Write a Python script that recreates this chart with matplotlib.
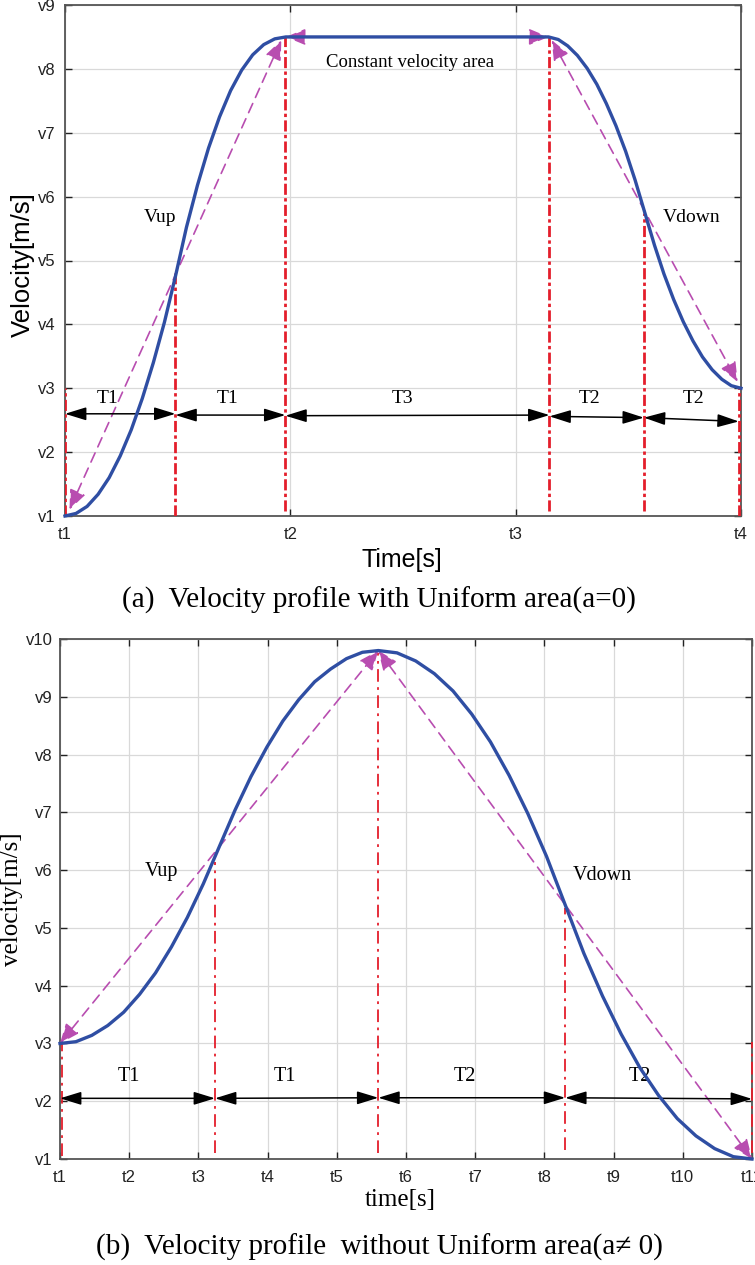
"""
Velocity profiles: (a) with a uniform (constant velocity) area, (b) without it.
"""

import matplotlib.pyplot as plt

# ---- panel (a): values ----
a_xticks = [0, 1, 2, 3]
a_xlabels = ['t1', 't2', 't3', 't4']
a_yticks = [1, 2, 3, 4, 5, 6, 7, 8, 9]
a_ylabels = ['v1', 'v2', 'v3', 'v4', 'v5', 'v6', 'v7', 'v8', 'v9']

a_t = [0, 0.049, 0.098, 0.147, 0.196, 0.245, 0.294, 0.343, 0.392, 0.441, 0.49,
       0.539, 0.588, 0.637, 0.686, 0.735, 0.784, 0.833, 0.882, 0.931, 0.98,
       2.146, 2.189, 2.231, 2.274, 2.317, 2.36, 2.402, 2.445, 2.488, 2.53, 2.573,
       2.616, 2.658, 2.701, 2.744, 2.787, 2.829, 2.872, 2.915, 2.957, 3.0]
a_v = [1.0, 1.04, 1.15, 1.34, 1.6, 1.94, 2.35, 2.84, 3.4, 4.03, 4.75,
       5.52, 6.18, 6.76, 7.25, 7.66, 7.98, 8.22, 8.38, 8.47, 8.5,
       8.5, 8.46, 8.36, 8.21, 8.01, 7.76, 7.46, 7.11, 6.71, 6.26, 5.75,
       5.24, 4.79, 4.39, 4.04, 3.74, 3.49, 3.29, 3.14, 3.04, 3.0]

# red dash-dot markers: x, top, bottom
a_marks_t = [0.0, 0.49, 0.978, 2.15, 2.569, 2.99]
a_marks_top = [3.0, 4.8, 8.5, 8.5, 5.75, 3.0]
a_marks_bot = [1.0, 1.0, 1.08, 1.08, 1.08, 1.0]

# magenta dashed double arrows (x0, y0, x1, y1)
a_slopes = [(0.02, 1.1, 0.96, 8.45), (0.98, 8.5, 2.146, 8.5), (2.16, 8.45, 2.985, 3.1)]

# black interval arrows and labels
a_span = [(0.0, 2.6, 0.49, 2.6), (0.49, 2.58, 0.978, 2.58), (0.978, 2.57, 2.15, 2.58),
          (2.15, 2.56, 2.569, 2.54), (2.569, 2.54, 2.99, 2.48)]
a_span_lbl = ['T1', 'T1', 'T3', 'T2', 'T2']
a_span_lbl_t = [0.19, 0.72, 1.5, 2.33, 2.79]
a_span_lbl_v = 2.84

# ---- panel (b) ----
b_xticks = list(range(11))
b_xlabels = ['t%d' % (i + 1) for i in range(11)]
b_yticks = list(range(1, 11))
b_ylabels = ['v%d' % i for i in range(1, 11)]

b_t = [0, 0.23, 0.46, 0.69, 0.92, 1.15, 1.38, 1.61, 1.84, 2.07, 2.3,
       2.53, 2.76, 2.99, 3.22, 3.45, 3.68, 3.91, 4.14, 4.37, 4.6,
       4.87, 5.14, 5.41, 5.68, 5.95, 6.22, 6.49, 6.76, 7.03, 7.3,
       7.57, 7.84, 8.11, 8.38, 8.65, 8.92, 9.19, 9.46, 9.73, 10.0]
b_v = [3.0, 3.03, 3.14, 3.31, 3.54, 3.85, 4.22, 4.67, 5.18, 5.76, 6.4,
       7.04, 7.62, 8.13, 8.58, 8.95, 9.26, 9.48, 9.66, 9.77, 9.8,
       9.76, 9.62, 9.4, 9.1, 8.7, 8.22, 7.64, 6.98, 6.24, 5.4,
       4.56, 3.82, 3.16, 2.58, 2.1, 1.7, 1.4, 1.18, 1.04, 1.0]

b_marks_t = [0.03, 2.24, 4.6, 7.3, 10.0]
b_marks_top = [3.0, 6.14, 9.75, 5.34, 3.03]
b_marks_bot = [1.05, 1.1, 1.1, 1.15, 1.1]

b_slopes = [(0.0, 3.0, 4.6, 9.8), (4.6, 9.8, 10.0, 1.0)]

b_span = [(0.0, 2.05, 2.24, 2.05), (2.24, 2.05, 4.6, 2.06), (4.6, 2.06, 7.3, 2.06),
          (7.3, 2.06, 10.0, 2.04)]
b_span_lbl = ['T1', 'T1', 'T2', 'T2']
b_span_lbl_t = [0.99, 3.25, 5.85, 8.38]
b_span_lbl_v = 2.42

BLUE = '#2F4EA3'
RED = '#E41E2B'
MAG = '#B84DB0'
GRID = '#D9D9D9'
SPINE = '#555555'
SANS = ['Liberation Sans', 'DejaVu Sans']
SERIF = ['Liberation Serif', 'DejaVu Serif']


def arrow(ax, x0, y0, x1, y1, color, lw, ls='-', hl=0.6, hw=0.25):
    ax.annotate('', xy=(x1, y1), xytext=(x0, y0),
                arrowprops=dict(arrowstyle='<|-|>,head_length=%g,head_width=%g' % (hl, hw),
                                color=color, lw=lw, linestyle=ls,
                                shrinkA=0, shrinkB=0, mutation_scale=20),
                annotation_clip=False)


def style_axes(ax, xt, xl, yt, yl, ypad):
    ax.set_xticks(xt)
    ax.set_xticklabels(xl, family=SANS)
    ax.set_yticks(yt)
    ax.set_yticklabels(yl, family=SANS)
    ax.tick_params(direction='in', length=5, width=1, top=True, right=True,
                   labelsize=12, colors='#222222')
    ax.tick_params(axis='x', pad=8)
    ax.tick_params(axis='y', pad=ypad)
    for s in ax.spines.values():
        s.set_color(SPINE)
        s.set_linewidth(1.3)
    ax.grid(True, color=GRID, linewidth=0.9)
    ax.set_axisbelow(True)


fig = plt.figure(figsize=(7.55, 12.65), dpi=100)

# ---------- (a) ----------
ax1 = fig.add_axes([65 / 755, 1 - 516 / 1265, 676 / 755, 511 / 1265])
ax1.set_xlim(0, 3)
ax1.set_ylim(1, 9)
style_axes(ax1, a_xticks, a_xlabels, a_yticks, a_ylabels, 7)

for x, top, bot in zip(a_marks_t, a_marks_top, a_marks_bot):
    ax1.plot([x, x], [bot, top], color=RED, lw=2.0, ls=(0, (4, 1.2, 1.2, 1.2)), zorder=3)
ax1.plot(a_t, a_v, color=BLUE, lw=2.4, zorder=4, clip_on=False)
for x0, y0, x1, y1 in a_slopes:
    arrow(ax1, x0, y0, x1, y1, MAG, 1.2, (0, (6, 4)))
for (x0, y0, x1, y1) in a_span:
    arrow(ax1, x0, y0, x1, y1, 'black', 1.1, hl=0.65, hw=0.2)
for lbl, x in zip(a_span_lbl, a_span_lbl_t):
    ax1.text(x, a_span_lbl_v, lbl, family=SERIF, fontsize=14, ha='center', va='center')
ax1.text(0.42, 5.68, 'Vup', family=SERIF, fontsize=14, ha='center', va='center')
ax1.text(2.78, 5.68, 'Vdown', family=SERIF, fontsize=14, ha='center', va='center')
ax1.text(1.53, 8.1, 'Constant velocity area', family=SERIF, fontsize=13.5,
         ha='center', va='center')

fig.text(23 / 755, 1 - 265 / 1265, 'Velocity[m/s]', family=SANS, fontsize=18.5,
         rotation=90, ha='center', va='center')
fig.text(402 / 755, 1 - 560 / 1265, 'Time[s]', family=SANS, fontsize=18,
         ha='center', va='center')
fig.text(379 / 755, 1 - 600 / 1265, '(a)  Velocity profile with Uniform area(a=0)',
         family=SERIF, fontsize=21, ha='center', va='center')

# ---------- (b) ----------
ax2 = fig.add_axes([60 / 755, 1 - 1159 / 1265, 692 / 755, 520 / 1265])
ax2.set_xlim(0, 10)
ax2.set_ylim(1, 10)
style_axes(ax2, b_xticks, b_xlabels, b_yticks, b_ylabels, 5)

for x, top, bot in zip(b_marks_t, b_marks_top, b_marks_bot):
    ax2.plot([x, x], [bot, top], color=RED, lw=1.3, ls=(0, (7, 3, 1.5, 3)), zorder=3,
             clip_on=False)
ax2.plot(b_t, b_v, color=BLUE, lw=2.4, zorder=4, clip_on=False)
for x0, y0, x1, y1 in b_slopes:
    arrow(ax2, x0, y0, x1, y1, MAG, 1.2, (0, (6, 4)))
for (x0, y0, x1, y1) in b_span:
    arrow(ax2, x0, y0, x1, y1, 'black', 1.1, hl=0.65, hw=0.2)
for lbl, x in zip(b_span_lbl, b_span_lbl_t):
    ax2.text(x, b_span_lbl_v, lbl, family=SERIF, fontsize=14.5, ha='center', va='center')
ax2.text(1.46, 5.97, 'Vup', family=SERIF, fontsize=14.5, ha='center', va='center')
ax2.text(7.83, 5.91, 'Vdown', family=SERIF, fontsize=14.5, ha='center', va='center')

fig.text(12 / 755, 1 - 899 / 1265, 'velocity[m/s]', family=SERIF, fontsize=18,
         rotation=90, ha='center', va='center')
fig.text(400 / 755, 1 - 1200 / 1265, 'time[s]', family=SERIF, fontsize=18,
         ha='center', va='center')
fig.text(379 / 755, 1 - 1247 / 1265,
         '(b)  Velocity profile  without Uniform area(a\u2260 0)',
         family=SERIF, fontsize=21, ha='center', va='center')

fig.savefig('out.png', dpi=100)
